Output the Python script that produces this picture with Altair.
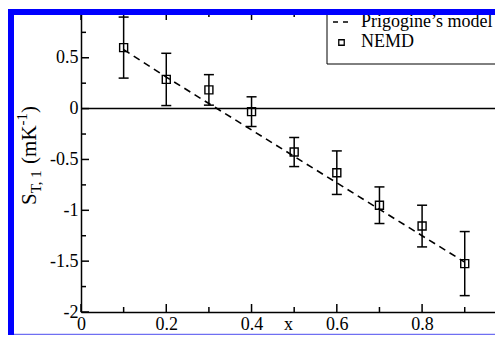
import altair as alt
import pandas as pd

# ---- data ----
x_vals = [0.1, 0.2, 0.3, 0.4, 0.5, 0.6, 0.7, 0.8, 0.9]
nemd = [0.60, 0.287, 0.184, -0.03, -0.427, -0.63, -0.95, -1.155, -1.524]
err = [0.30, 0.257, 0.15, 0.146, 0.143, 0.214, 0.18, 0.205, 0.315]
model = [0.58, 0.31, 0.05, -0.21, -0.47, -0.73, -0.99, -1.25, -1.51]

x_major = [0, 0.2, 0.4, 0.6, 0.8]
x_minor = [0.1, 0.3, 0.5, 0.7, 0.9]
y_major = [-2, -1.5, -1, -0.5, 0, 0.5]
y_minor = [-1.75, -1.25, -0.75, -0.25, 0.25, 0.75]
legend_labels = ["Prigogine\u2019s model", "NEMD"]

W, H = 414, 300
X_MAX = 0.971
FONT = "Liberation Serif"
BLUE = "#0000ff"

df = pd.DataFrame({
    "x": x_vals,
    "nemd": nemd,
    "lo": [v - e for v, e in zip(nemd, err)],
    "hi": [v + e for v, e in zip(nemd, err)],
    "model": model,
})

xs = alt.Scale(domain=[0, X_MAX], zero=False, nice=False)
ys = alt.Scale(domain=[-2, 0.95], zero=False, nice=False)

x_axis = alt.Axis(values=x_major, labelExpr="datum.value + ''", ticks=False, grid=False,
                  domainColor="black", domainWidth=1.5, labelFont=FONT, labelFontSize=18,
                  labelColor="black", labelPadding=3, labelFlush=False, title="x",
                  titleFont=FONT, titleFontSize=18, titleFontWeight="normal", titleColor="black",
                  titleY=17, titleBaseline="alphabetic")
y_axis = alt.Axis(values=y_major, labelExpr="datum.value + ''", ticks=False, grid=False,
                  domainColor="black", domainWidth=1.5, labelFont=FONT, labelFontSize=18,
                  labelColor="black", labelPadding=3, title="")

def X(field):
    return alt.X(field, scale=xs, axis=x_axis)

def Y(field):
    return alt.Y(field, scale=ys, axis=y_axis)

base = alt.Chart(df)
one = alt.Data(values=[{}])

# blue frame of the figure (bottom line drawn first so the axis text sits on top)
def blue(x0, x1, y0, y1, color=BLUE):
    return alt.Chart(one).mark_rect(color=color, opacity=1).encode(
        x=alt.value(x0), x2=alt.value(x1), y=alt.value(y0), y2=alt.value(y1))

bottom_line = blue(-73, 430, 321.8, 323, "#6f6ff2")

zero_line = alt.Chart(one).mark_rule(color="black", strokeWidth=1.5).encode(
    y=alt.YDatum(0, scale=ys, axis=y_axis)
)

model_line = base.mark_line(color="black", strokeWidth=1.6, strokeDash=[7, 5]).encode(
    x=X("x:Q"), y=Y("model:Q"),
)

bars = base.mark_rule(color="black", strokeWidth=1.5).encode(
    x=X("x:Q"), y=Y("lo:Q"), y2="hi:Q",
)
cap_lo = base.mark_rule(color="black", strokeWidth=1.5, xOffset=-5, x2Offset=5).encode(
    x=X("x:Q"), x2="x:Q", y=Y("lo:Q"),
)
cap_hi = base.mark_rule(color="black", strokeWidth=1.5, xOffset=-5, x2Offset=5).encode(
    x=X("x:Q"), x2="x:Q", y=Y("hi:Q"),
)
points = base.mark_point(shape="square", filled=False, size=64, color="black",
                         strokeWidth=1.4, opacity=1).encode(
    x=X("x:Q"), y=Y("nemd:Q"),
)

# ---- inward ticks (bottom, top, left) ----
def xticks(vals, length, top):
    d = pd.DataFrame({"v": vals})
    y0, y1 = (0, length) if top else (H, H - length)
    return alt.Chart(d).mark_rule(color="black", strokeWidth=1.5).encode(
        x=X("v:Q"), y=alt.value(y0), y2=alt.value(y1))

def yticks(vals, length):
    d = pd.DataFrame({"v": vals})
    return alt.Chart(d).mark_rule(color="black", strokeWidth=1.5).encode(
        y=Y("v:Q"), x=alt.value(0), x2=alt.value(length))

ticks = [xticks(x_major, 8, False), xticks(x_minor, 5, False),
         xticks(x_major, 8, True), xticks(x_minor, 5, True),
         yticks(y_major, 8), yticks(y_minor, 5)]

def txt(s, x, y, size, angle=0):
    return alt.Chart(one).mark_text(text=s, font=FONT, fontSize=size, color="black",
                                    align="left", baseline="alphabetic", angle=angle).encode(
        x=alt.value(x), y=alt.value(y))

# y title: S_{T, 1} (mK^{-1})
ytitle = [txt("S", -45, 193, 21, 270), txt("T, 1", -40, 181.3, 15, 270),
          txt("(mK", -45, 151.9, 21, 270), txt("-1", -54.5, 113.4, 15, 270),
          txt(")", -45, 100.9, 21, 270)]

# legend
leg_box = alt.Chart(one).mark_rect(fill="white", stroke="black", strokeWidth=1).encode(
    x=alt.value(246), x2=alt.value(440), y=alt.value(-2), y2=alt.value(52))
leg_dash = alt.Chart(one).mark_rule(color="black", strokeWidth=1.6, strokeDash=[5, 5]).encode(
    x=alt.value(252), x2=alt.value(269), y=alt.value(10))
leg_sq = alt.Chart(one).mark_point(shape="square", filled=False, size=30, color="black",
                                   strokeWidth=1.3, opacity=1).encode(
    x=alt.value(260.5), y=alt.value(30.5))
leg_t1 = txt(legend_labels[0], 280, 15, 18)
leg_t2 = txt(legend_labels[1], 280, 35, 18)

frame = [blue(-73, -67, -3, 323), blue(-73, 430, -3, 3)]

chart = alt.layer(
    bottom_line, zero_line, model_line, bars, cap_lo, cap_hi, points, *ticks, *ytitle,
    leg_box, leg_dash, leg_sq, leg_t1, leg_t2, *frame,
).properties(
    width=W, height=H,
    autosize=alt.AutoSizeParams(type="none"),
    padding={"left": 73, "top": 4, "right": 0, "bottom": 23},
    background="white",
).configure_view(stroke=None)

chart.save("out.html", embed_options={"renderer": "svg", "actions": False})
